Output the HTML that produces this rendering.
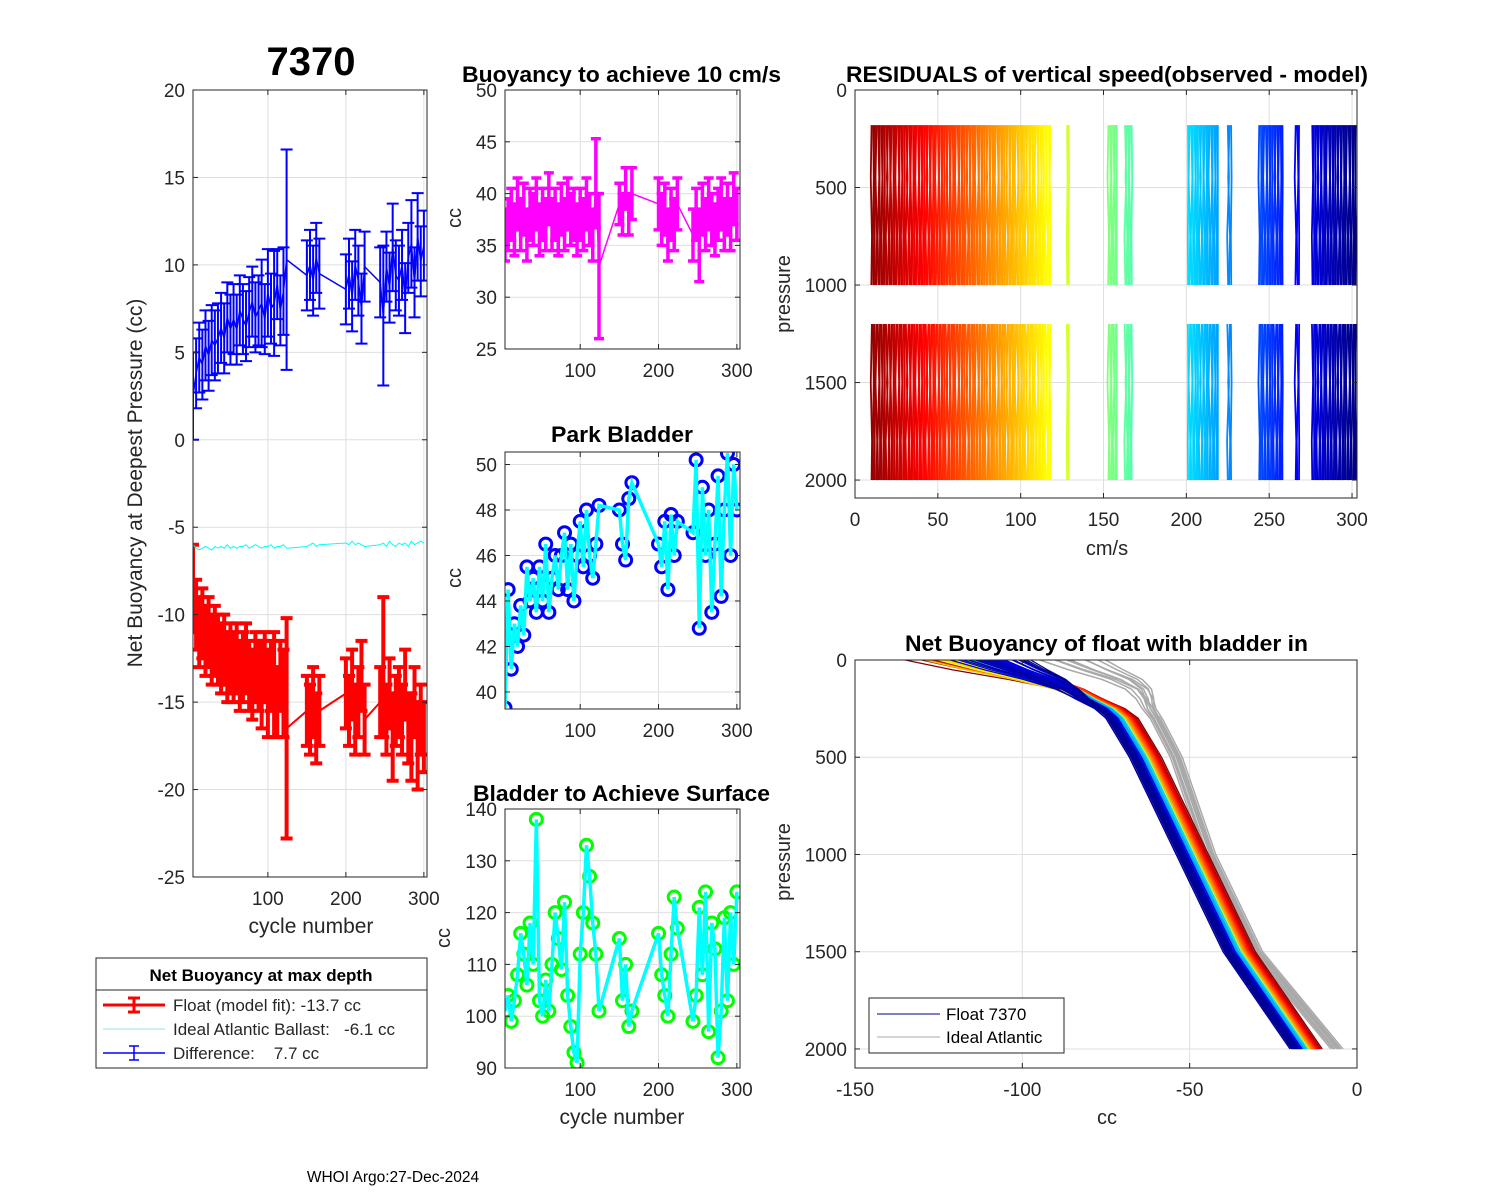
<!DOCTYPE html>
<html><head><meta charset="utf-8"><style>
html,body{margin:0;padding:0;background:#fff;}
svg{display:block;font-family:"Liberation Sans",Arial,sans-serif;}
</style></head><body>
<svg id="fig" width="1500" height="1200" viewBox="0 0 1500 1200" xmlns="http://www.w3.org/2000/svg">
<rect x="0" y="0" width="1500" height="1200" fill="#fff"/>
<text x="311" y="75" font-size="40" font-weight="bold" text-anchor="middle">7370</text>
<text x="462" y="82" font-size="22" font-weight="bold" textLength="319" lengthAdjust="spacingAndGlyphs">Buoyancy to achieve 10 cm/s</text>
<text x="551" y="442" font-size="22" font-weight="bold" textLength="142" lengthAdjust="spacingAndGlyphs">Park Bladder</text>
<text x="473" y="801" font-size="22" font-weight="bold" textLength="297" lengthAdjust="spacingAndGlyphs">Bladder to Achieve Surface</text>
<text x="846" y="82" font-size="22" font-weight="bold" textLength="522" lengthAdjust="spacingAndGlyphs">RESIDUALS of vertical speed(observed - model)</text>
<text x="905" y="651" font-size="22" font-weight="bold" textLength="403" lengthAdjust="spacingAndGlyphs">Net Buoyancy of float with bladder in</text>
<text transform="translate(142,483) rotate(-90)" font-size="21" fill="#262626" text-anchor="middle">Net Buoyancy at Deepest Pressure (cc)</text>
<text transform="translate(461,218) rotate(-90)" font-size="20" fill="#262626" text-anchor="middle">cc</text>
<text transform="translate(461,578) rotate(-90)" font-size="20" fill="#262626" text-anchor="middle">cc</text>
<text transform="translate(450,938) rotate(-90)" font-size="20" fill="#262626" text-anchor="middle">cc</text>
<text transform="translate(790,294) rotate(-90)" font-size="20" fill="#262626" text-anchor="middle">pressure</text>
<text transform="translate(790,862) rotate(-90)" font-size="20" fill="#262626" text-anchor="middle">pressure</text>
<text x="311" y="933" font-size="21" fill="#262626" text-anchor="middle">cycle number</text>
<text x="622" y="1124" font-size="21" fill="#262626" text-anchor="middle">cycle number</text>
<text x="1107" y="555" font-size="20" fill="#262626" text-anchor="middle">cm/s</text>
<text x="1107" y="1124" font-size="20" fill="#262626" text-anchor="middle">cc</text>
<text x="393" y="1182" font-size="15.5" text-anchor="middle">WHOI Argo:27-Dec-2024</text>

<g>
<rect x="96" y="958" width="331" height="110" fill="#fff" stroke="#262626" stroke-width="1"/>
<text x="261" y="981" font-size="17" font-weight="bold" text-anchor="middle">Net Buoyancy at max depth</text>
<line x1="96" y1="990" x2="427" y2="990" stroke="#262626" stroke-width="1"/>
<g>
<line x1="103" y1="1005" x2="165" y2="1005" stroke="#f00" stroke-width="3"/>
<line x1="134" y1="998" x2="134" y2="1012" stroke="#f00" stroke-width="3"/>
<line x1="128" y1="998" x2="140" y2="998" stroke="#f00" stroke-width="3"/>
<line x1="128" y1="1012" x2="140" y2="1012" stroke="#f00" stroke-width="3"/>
<text x="173" y="1011" font-size="17" fill="#262626" style="white-space:pre">Float (model fit): -13.7 cc</text></g>
<g>
<line x1="103" y1="1029" x2="165" y2="1029" stroke="#9adfe6" stroke-width="1"/>
<text x="173" y="1035" font-size="17" fill="#262626" style="white-space:pre">Ideal Atlantic Ballast:   -6.1 cc</text></g>
<g>
<line x1="103" y1="1053" x2="165" y2="1053" stroke="#00f" stroke-width="1.5"/>
<line x1="134" y1="1046" x2="134" y2="1060" stroke="#00f" stroke-width="1.5"/>
<line x1="129" y1="1046" x2="139" y2="1046" stroke="#00f" stroke-width="1.5"/>
<line x1="129" y1="1060" x2="139" y2="1060" stroke="#00f" stroke-width="1.5"/>
<text x="173" y="1059" font-size="17" fill="#262626" style="white-space:pre">Difference:    7.7 cc</text></g>
</g>
</svg>
<script>
// ---------- data ----------
const cycles = [4,8,12,16,20,24,28,32,36,40,44,48,52,56,60,64,68,72,76,80,84,88,92,96,100,104,108,112,116,120,124,
150,154,158,162,166, 200,204,208,212,216,220,224,
244,248,252,256,260,264,268,272,276,280,284,288,292,296,300];
const floatFit = [-8.5,-10,-11,-10.5,-11.5,-11,-12,-11.5,-12,-12.5,-12,-13,-12.5,-13,-12.5,-13.5,-13,-12.5,-13.5,-14,-13,-13.5,-14,-13,-14.5,-13.5,-14,-15,-13.5,-14.5,-16.5,
-15.5,-16,-15,-16.5,-15.5, -14.5,-15.5,-14,-16,-15,-13.5,-16,
-15,-13,-16,-14.5,-17,-15.5,-15,-16,-14,-16.5,-17,-15,-17.5,-16,-17];
const floatErr = [2.5,2,2,2,2,2,2,2,2,2,2,2,2,2,2,2,2,2,2,2,2,2,2.5,2,2.5,2,3,2,2,2.5,6.3,
2,2,2,2,2, 2,2,2,2,2,2,2,
2,4,2,2,2.5,2,2,2,2,2,2.5,2,2.5,2,2];
const idealBallast = [-6.0,-6.2,-6.3,-6.2,-6.1,-6.2,-6.3,-6.1,-6.2,-6.1,-6.2,-6.0,-6.2,-6.1,-6.2,-6.1,-6.1,-6.0,-6.2,-6.1,-6.0,-6.1,-6.2,-6.1,-6.1,-6.0,-6.2,-6.1,-6.1,-6.0,-6.2,
-6.1,-6.0,-5.9,-6.1,-6.0, -5.9,-6.0,-5.8,-6.0,-5.9,-6.0,-6.1,
-6.0,-5.9,-6.1,-5.8,-6.0,-6.1,-5.9,-6.0,-5.9,-6.1,-5.8,-6.0,-5.9,-5.8,-5.9];
const buoy10 = [36,37,38,36.5,39,37,38.5,36,38,37.5,39,36.5,38,37,39.5,37,38,36.5,38.5,37,39,37.5,38,36.5,38,37,39,37.5,36,41,33,
39,38,40.5,38,40, 39,37.5,38.5,36,38,37,39,
36,38,35,38.5,37,39,37.5,36.5,38,39,37,38.5,37,39.5,38];
const buoy10Err = [2.5,2.5,2.5,2.5,2.5,2.5,2.5,2.5,2.5,2.5,2.5,2.5,2.5,2.5,2.5,2.5,2.5,2.5,2.5,2.5,2.5,2.5,2.5,2.5,2.5,2.5,2.5,2.5,2.5,4.3,7,
2,2,2,2,2.5, 2.5,2.5,2.5,2.5,2.5,2.5,2.5,
2.5,2.5,3.5,2.5,2.5,2.5,2.5,2.5,2.5,2.5,2.5,2.5,2.5,2.5,2.5];
const parkBladder = [39.3,44.5,41,43,42,43.8,42.5,45.5,44,45,43.5,45.5,44,46.5,43.5,45,46,44.5,46,47,44.5,46.5,44,46,47.5,45.5,48,46,45,46.5,48.2,
48,46.5,45.8,48.5,49.2, 46.5,45.5,47.5,44.5,47.8,46,47.5,
47,50.2,42.8,49,46,48,43.5,46.5,49.5,44.2,48,50.5,46,50,48];
const surfBladder = [101,104,99,103,108,116,112,106,118,110,138,103,100,107,101,110,120,115,109,122,104,98,93,91,112,120,133,127,118,112,101,
115,103,110,98,101, 116,108,104,100,112,123,117,
99,104,121,108,124,97,118,113,92,101,119,103,120,110,124];
const resRanges = [[10,118],[128,129],[153,158],[163,167],[201,219],[225,227],[244,258],[266,268],[276,303]];
const resTilt = [-0.8,0.5,0.3,-1,1,-0.3,0.8,-0.5,0,1.2,-1.2,0.5];
const presLevels = [0,50,100,150,200,250,300,500,1000,1500,2000];
const floatBase = [-105,-98,-90,-84,-80,-75,-72,-65,-51,-37,-17];
const idealBase = [-85,-78,-70,-65,-63,-62,-60,-54,-44,-30,-6];
const deepOff = [5,5,4.5,4.5,4.5,4,4,4,3.5,3.5,3.5,3,3,3,2.5,2.5,2.5,2,2,2,1.5,1.5,1.5,1,1,1,0.5,0.5,0.5,0,0,
1,0.5,0.5,0,0, 0,-0.5,0.5,-1,0,-0.5,-1,
-1,-1.5,-2,-1,-2.5,-1.5,-2,-3,-1,-2.5,-3,-1.5,-2,-3,-2.5];
const topOff = [-35,-30,-25,-28,-22,-20,-25,-18,-22,-15,-20,-18,-15,-22,-12,-18,-20,-15,-25,-22,-18,-20,-15,-12,-25,-20,-18,-15,-10,-12,-20,
-10,-8,-12,-5,-10, -8,-5,-10,-3,-6,-8,-4,
-10,-5,0,-8,5,-3,-12,2,-6,8,-2,-15,4,-8,10];
const idealOff = [-3,-2,-1,0,1,2,3,-1.5,0.5,1.5];
const idealTop = [-8,-4,0,4,7,-6,2,5,-2,9];
const topWeight = [1,0.8,0.55,0.3,0.15,0.05,0,0,0,0,0];

// ---------- helpers ----------
const NS='http://www.w3.org/2000/svg';
const svg=document.getElementById('fig');
function mk(tag,attrs,parent){const e=document.createElementNS(NS,tag);for(const k in attrs)e.setAttribute(k,attrs[k]);(parent||svg).appendChild(e);return e;}
function jet(c){const t=1-(c-4)/300;const cl=v=>Math.max(0,Math.min(1,v));
 const r=cl(1.5-Math.abs(4*t-3)),g=cl(1.5-Math.abs(4*t-2)),b=cl(1.5-Math.abs(4*t-1));
 return `rgb(${Math.round(r*255)},${Math.round(g*255)},${Math.round(b*255)})`;}
let clipId=0;
function axes(o){
 const g=mk('g',{});
 
 
 const sx=v=>o.x0+(v-o.xmin)/(o.xmax-o.xmin)*(o.x1-o.x0);
 const sy=o.yrev?(v=>o.y0+(v-o.ymin)/(o.ymax-o.ymin)*(o.y1-o.y0)):(v=>o.y1-(v-o.ymin)/(o.ymax-o.ymin)*(o.y1-o.y0));
 const grid=mk('g',{stroke:'#dfdfdf','stroke-width':1},g);
 
 
 o.xticks.forEach(v=>{mk('line',{x1:sx(v),x2:sx(v),y1:o.y0,y2:o.y1},grid);});
 o.yticks.forEach(v=>{mk('line',{x1:o.x0,x2:o.x1,y1:sy(v),y2:sy(v)},grid);});
 const id='clip'+(clipId++);
 const cp=mk('clipPath',{id:id},g);mk('rect',{x:o.x0,y:o.y0,width:o.x1-o.x0,height:o.y1-o.y0},cp);
 const plot=mk('g',{'clip-path':`url(#${id})`},g);
 
 
 const fr=mk('g',{},g);
 
 
 mk('rect',{x:o.x0,y:o.y0,width:o.x1-o.x0,height:o.y1-o.y0,fill:'none',stroke:'#262626','stroke-width':1},fr);
 o.xticks.forEach((v,i)=>{const x=sx(v);
  mk('line',{x1:x,x2:x,y1:o.y1,y2:o.y1-5,stroke:'#262626'},fr);mk('line',{x1:x,x2:x,y1:o.y0,y2:o.y0+5,stroke:'#262626'},fr);
  const t=mk('text',{x:x,y:o.y1+28,'font-size':19,fill:'#262626','text-anchor':'middle'},fr);t.textContent=o.xlabels[i];
  
  });
 o.yticks.forEach((v,i)=>{const y=sy(v);
  mk('line',{x1:o.x0,x2:o.x0+5,y1:y,y2:y,stroke:'#262626'},fr);mk('line',{x1:o.x1,x2:o.x1-5,y1:y,y2:y,stroke:'#262626'},fr);
  const t=mk('text',{x:o.x0-8,y:y+7,'font-size':19,fill:'#262626','text-anchor':'end'},fr);t.textContent=o.ylabels[i];
  
  });
 return {sx,sy,plot,frame:fr};
}
function errbars(A,xs,ys,es,color,w,cap,name,lw){
 const g=mk('g',{stroke:color,'stroke-width':w,fill:'none'},A.plot);
 
 
 const pl=mk('polyline',{points:xs.map((c,i)=>A.sx(c)+','+A.sy(ys[i])).join(' '),'stroke-width':lw},g);
 
 
 xs.forEach((c,i)=>{const x=A.sx(c),a=A.sy(ys[i]-es[i]),b=A.sy(ys[i]+es[i]);
  const bar=mk('path',{d:`M${x},${a}V${b}M${x-cap},${a}H${x+cap}M${x-cap},${b}H${x+cap}`},g);
  
  });
}
function circles(A,xs,ys,color,name){
 const g=mk('g',{},A.plot);
 
 
 xs.forEach((c,i)=>{const p=mk('circle',{cx:A.sx(c),cy:A.sy(ys[i]),r:6,fill:'none',stroke:color,'stroke-width':3},g);
  
  });
 const l=mk('polyline',{points:xs.map((c,i)=>A.sx(c)+','+A.sy(ys[i])).join(' '),fill:'none',stroke:'#00ffff','stroke-width':3.5},g);
 
 
}

// ---------- panel 1 ----------
const P1=axes({name:'net-buoyancy-axes',x0:193,x1:427,y0:90,y1:877,xmin:4,xmax:304,ymin:-25,ymax:20,
 xticks:[100,200,300],xlabels:['100','200','300'],yticks:[20,15,10,5,0,-5,-10,-15,-20,-25],ylabels:['20','15','10','5','0','-5','-10','-15','-20','-25']});
const diff=idealBallast.map((v,i)=>v-floatFit[i]);
errbars(P1,cycles,floatFit,floatErr,'#ff0000',4,6,'float-series',2);
const il=mk('polyline',{points:cycles.map((c,i)=>P1.sx(c)+','+P1.sy(idealBallast[i])).join(' '),fill:'none',stroke:'#00ffff','stroke-width':1},P1.plot);


errbars(P1,cycles,diff,floatErr,'#0000ff',2,6,'difference-series',1.5);

// ---------- panel 2 ----------
const P2=axes({name:'buoyancy-10cms-axes',x0:505,x1:740,y0:90,y1:349,xmin:4,xmax:304,ymin:25,ymax:50,
 xticks:[100,200,300],xlabels:['100','200','300'],yticks:[50,45,40,35,30,25],ylabels:['50','45','40','35','30','25']});
errbars(P2,cycles,buoy10,buoy10Err,'#ff00ff',3.5,5,'buoyancy-10cms-series',1.5);

// ---------- panel 3 ----------
const P3=axes({name:'park-bladder-axes',x0:505,x1:740,y0:452,y1:709,xmin:4,xmax:304,ymin:39.25,ymax:50.55,
 xticks:[100,200,300],xlabels:['100','200','300'],yticks:[50,48,46,44,42,40],ylabels:['50','48','46','44','42','40']});
circles(P3,cycles,parkBladder,'#0000ff','park-bladder-series');

// ---------- panel 4 ----------
const P4=axes({name:'surface-bladder-axes',x0:505,x1:740,y0:809,y1:1068,xmin:4,xmax:304,ymin:90,ymax:140,
 xticks:[100,200,300],xlabels:['100','200','300'],yticks:[140,130,120,110,100,90],ylabels:['140','130','120','110','100','90']});
circles(P4,cycles,surfBladder,'#00ff00','surface-bladder-series');

// ---------- panel 5 ----------
const P5=axes({name:'residuals-axes',x0:855,x1:1357,y0:90,y1:498,xmin:0,xmax:303,ymin:0,ymax:2092,yrev:true,
 xticks:[0,50,100,150,200,250,300],xlabels:['0','50','100','150','200','250','300'],yticks:[0,500,1000,1500,2000],ylabels:['0','500','1000','1500','2000']});
const rg=mk('g',{fill:'none','stroke-width':1.8},P5.plot);


let k=0;
resRanges.forEach(r=>{for(let c=r[0];c<=r[1];c+=1){const t=resTilt[k%resTilt.length];k++;
 const x=P5.sx(c);const col=jet(c);
 const d=`M${x},${P5.sy(180)}L${x+t},${P5.sy(450)}L${x-t*0.5},${P5.sy(750)}L${x+t*0.3},${P5.sy(1000)}M${x-t*0.4},${P5.sy(1200)}L${x+t},${P5.sy(1500)}L${x-t*0.6},${P5.sy(1800)}L${x},${P5.sy(2000)}`;
 const p=mk('path',{d:d,stroke:col},rg);
 
 }});

// ---------- panel 6 ----------
const P6=axes({name:'net-buoyancy-profile-axes',x0:855,x1:1357,y0:660,y1:1068,xmin:-150,xmax:0,ymin:0,ymax:2098,yrev:true,
 xticks:[-150,-100,-50,0],xlabels:['-150','-100','-50','0'],yticks:[0,500,1000,1500,2000],ylabels:['0','500','1000','1500','2000']});
const gg=mk('g',{fill:'none','stroke-width':1.5,stroke:'#a9a9a9'},P6.plot);


idealOff.forEach((o,i)=>{
 const pts=presLevels.map((p,m)=>P6.sx(idealBase[m]+o*0.6+idealTop[i]*topWeight[m])+','+P6.sy(p)).join(' ');
 const l=mk('polyline',{points:pts},gg);
 
 });
const pg=mk('g',{fill:'none','stroke-width':1.2},P6.plot);


for(let i=0;i<cycles.length;i++){
 for(let j=0;j<3;j++){
 const pts=presLevels.map((p,m)=>P6.sx(floatBase[m]+deepOff[i]+j*0.8+topOff[i]*topWeight[m]*(1-j*0.2))+','+P6.sy(p)).join(' ');
 const l=mk('polyline',{points:pts,stroke:jet(cycles[i])},pg);
 
 }
}
const lg=mk('g',{});


mk('rect',{x:869,y:998,width:195,height:55,fill:'#fff',stroke:'#262626'},lg);
mk('line',{x1:877,x2:940,y1:1014,y2:1014,stroke:'#000080','stroke-width':1},lg);
mk('line',{x1:877,x2:940,y1:1037,y2:1037,stroke:'#a9a9a9','stroke-width':1},lg);
const t1=mk('text',{x:946,y:1020,'font-size':17,fill:'#000'},lg);t1.textContent='Float 7370';


const t2=mk('text',{x:946,y:1043,'font-size':17,fill:'#000'},lg);t2.textContent='Ideal Atlantic';


</script>
</body></html>
